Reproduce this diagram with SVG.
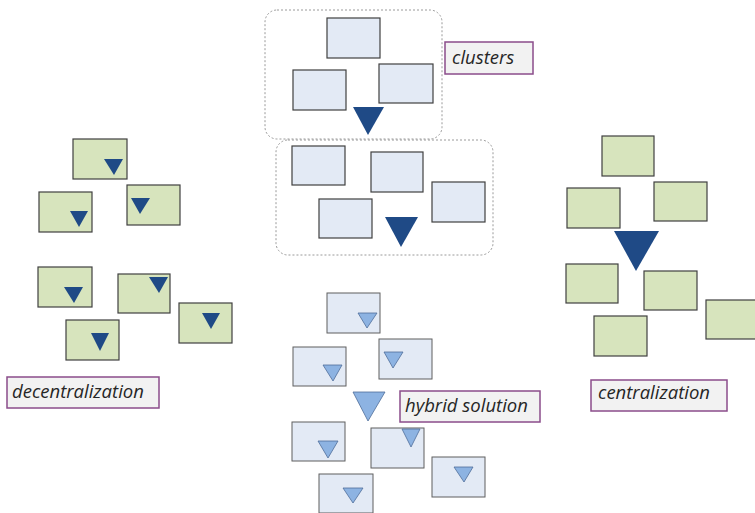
<svg xmlns="http://www.w3.org/2000/svg" width="755" height="513" viewBox="0 0 755 513">
  <style>
    .g { fill: #D7E4BD; stroke: #404040; stroke-width: 1.2; }
    .b { fill: #E3EAF5; stroke: #404040; stroke-width: 1.2; }
    .hb { fill: #E3EAF5; stroke: #5f5f5f; stroke-width: 1; }
    .dk { fill: #1F4A86; }
    .lt { fill: #8DB3E2; stroke: #4F6D99; stroke-width: 0.8; }
    .grp { fill: #ffffff; stroke: #9a9a9a; stroke-width: 1; stroke-dasharray: 2 2; }
    .lbl { fill: #F2F2F2; stroke: #8B4C8B; stroke-width: 1.5; }
    .t { font-family: "Open Sans", "Noto Sans", sans-serif; font-style: italic; font-size: 18.5px; fill: #262626; }
  </style>

  <!-- clusters -->
  <g id="clusters">
    <rect class="grp" x="265" y="10" width="177" height="129" rx="12"/>
    <rect class="b" x="327" y="18" width="53" height="40"/>
    <rect class="b" x="293" y="70" width="53" height="40"/>
    <rect class="b" x="379" y="64" width="54" height="39"/>
    <polygon class="dk" points="353,107 384,107 368,135"/>
    <rect class="grp" x="276" y="140" width="217" height="115" rx="12"/>
    <rect class="b" x="292" y="146" width="53" height="39"/>
    <rect class="b" x="371" y="152" width="52" height="40"/>
    <rect class="b" x="432" y="182" width="53" height="40"/>
    <rect class="b" x="319" y="199" width="53" height="39"/>
    <polygon class="dk" points="385,217 418,217 401,247"/>
  </g>
  <g id="clusters-label">
    <rect class="lbl" x="445" y="42" width="88" height="32"/>
    <text class="t" x="452" y="64">clusters</text>
  </g>

  <!-- decentralization -->
  <g id="decentralization">
    <rect class="g" x="73" y="139" width="54" height="40"/>
    <polygon class="dk" points="104,159 123,159 114,175"/>
    <rect class="g" x="39" y="192" width="53" height="40"/>
    <polygon class="dk" points="70,211 88,211 79,227"/>
    <rect class="g" x="127" y="185" width="53" height="40"/>
    <polygon class="dk" points="131,198 150,198 140,214"/>
    <rect class="g" x="38" y="267" width="54" height="40"/>
    <polygon class="dk" points="64,287 83,287 74,303"/>
    <rect class="g" x="118" y="274" width="52" height="39"/>
    <polygon class="dk" points="149,277 168,277 159,293"/>
    <rect class="g" x="179" y="303" width="53" height="40"/>
    <polygon class="dk" points="202,313 220,313 211,329"/>
    <rect class="g" x="66" y="320" width="53" height="40"/>
    <polygon class="dk" points="91,333 109,333 100,351"/>
  </g>
  <g id="decentralization-label">
    <rect class="lbl" x="7" y="377" width="152" height="31"/>
    <text class="t" x="12" y="398">decentralization</text>
  </g>

  <!-- centralization -->
  <g id="centralization">
    <rect class="g" x="602" y="136" width="52" height="40"/>
    <rect class="g" x="567" y="188" width="53" height="40"/>
    <rect class="g" x="654" y="182" width="53" height="39"/>
    <polygon class="dk" points="614,231 659,231 636,271"/>
    <rect class="g" x="566" y="264" width="52" height="39"/>
    <rect class="g" x="644" y="271" width="53" height="39"/>
    <rect class="g" x="706" y="300" width="53" height="39"/>
    <rect class="g" x="594" y="316" width="53" height="40"/>
  </g>
  <g id="centralization-label">
    <rect class="lbl" x="591" y="380" width="136" height="31"/>
    <text class="t" x="598" y="399">centralization</text>
  </g>

  <!-- hybrid solution -->
  <g id="hybrid">
    <rect class="hb" x="327" y="293" width="53" height="40"/>
    <polygon class="lt" points="358,313 377,313 367,328"/>
    <rect class="hb" x="293" y="347" width="53" height="39"/>
    <polygon class="lt" points="323,365 342,365 333,381"/>
    <rect class="hb" x="379" y="339" width="53" height="40"/>
    <polygon class="lt" points="384,352 403,352 393,368"/>
    <polygon class="lt" points="353,392 385,392 368,421"/>
    <rect class="hb" x="292" y="422" width="53" height="39"/>
    <polygon class="lt" points="318,441 338,441 328,458"/>
    <rect class="hb" x="371" y="428" width="53" height="40"/>
    <polygon class="lt" points="402,429 420,429 411,447"/>
    <rect class="hb" x="432" y="457" width="53" height="40"/>
    <polygon class="lt" points="454,467 473,467 464,482"/>
    <rect class="hb" x="319" y="474" width="54" height="39"/>
    <polygon class="lt" points="343,488 363,488 353,503"/>
  </g>
  <g id="hybrid-label">
    <rect class="lbl" x="400" y="391" width="140" height="31"/>
    <text class="t" x="405" y="412">hybrid solution</text>
  </g>
</svg>
